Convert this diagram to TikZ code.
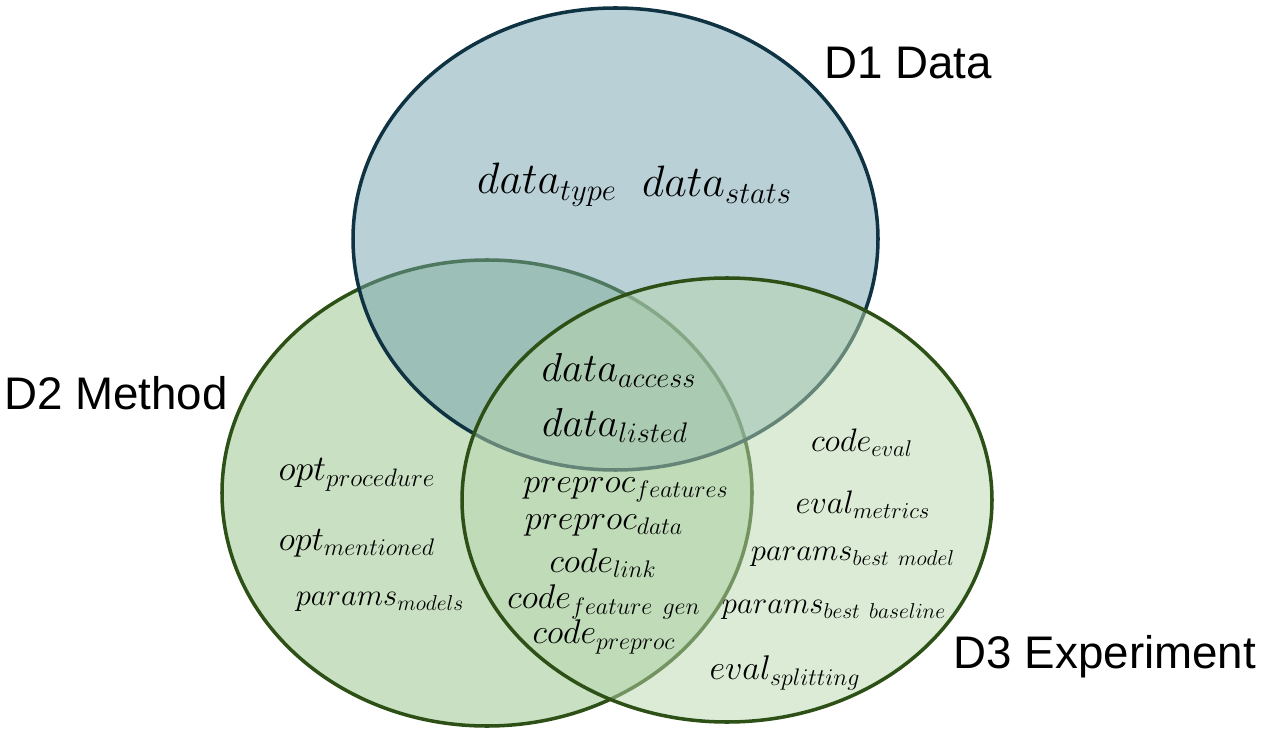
\RequirePackage{fix-cm}
\documentclass[tikz,border=0pt]{standalone}
\usepackage{amsmath}
\usepackage{fontspec}
\setsansfont{Liberation Sans}
\usepackage{tikz}
\usetikzlibrary{backgrounds}
\definecolor{dataline}{HTML}{0F3342}
\definecolor{datafill}{HTML}{71A1AD}
\definecolor{grnline}{HTML}{2D5016}
\definecolor{methfill}{HTML}{C9E0C2}
\definecolor{expfill}{HTML}{B9D7AD}
\begin{document}
\begin{tikzpicture}[x=0.02cm, y=-0.02cm,
	setname/.style = {font=\sffamily\fontsize{26}{30}\selectfont},
	bigitem/.style = {font=\fontsize{25}{30}\selectfont},
	miditem/.style = {font=\fontsize{23}{28}\selectfont},
	item/.style = {font=\fontsize{19.5}{24}\selectfont},
	smallitem/.style = {font=\fontsize{17.5}{22}\selectfont}]
	\useasboundingbox (0,0) rectangle (1264,729);
	\draw[grnline, line width=2pt, fill=methfill] (487,493) ellipse (265 and 233);
	\draw[dataline, line width=2pt, fill=datafill, fill opacity=.5] (615.5,239) ellipse (262.5 and 231);
	\draw[grnline, line width=2pt, fill=expfill, fill opacity=.5] (727,500) ellipse (265 and 222);
	\node[setname] (lone) at (908,63) {D1 Data};
	\node[setname] (ltwo) at (116,393) {D2 Method};
	\node[setname] (lthree) at (1105,657) {D3 Experiment};
	\node[bigitem] (dtype) at (547,185) {$data_{type}$};
	\node[bigitem] (dstats) at (717,185) {$data_{stats}$};
	\node[miditem] (dacc) at (619,370) {$data_{access}$};
	\node[miditem] (dlist) at (615,425) {$data_{listed}$};
	\node[item] (ppfeat) at (626,490) {$preproc_{features}$};
	\node[item] (ppdata) at (604,525) {$preproc_{data}$};
	\node[item] (clink) at (603,563) {$code_{link}$};
	\node[item] (cfeat) at (604,602) {$code_{feature\ gen}$};
	\node[item] (cpre) at (604,637) {$code_{preproc}$};
	\node[item, font=\fontsize{20.5}{24}\selectfont] (oproc) at (357,475) {$opt_{procedure}$};
	\node[item] (oment) at (357,543) {$opt_{mentioned}$};
	\node[smallitem] (pmod) at (380,602) {$params_{models}$};
	\node[smallitem, font=\fontsize{18.5}{22}\selectfont] (ceval) at (862,443) {$code_{eval}$};
	\node[item, font=\fontsize{18.5}{22}\selectfont] (emetr) at (863,505) {$eval_{metrics}$};
	\node[smallitem] (pbm) at (853,557) {$params_{best\ model}$};
	\node[smallitem] (pbb) at (834,610) {$params_{best\ baseline}$};
	\node[item] (esplit) at (785,673) {$eval_{splitting}$};
\end{tikzpicture}
\end{document}
